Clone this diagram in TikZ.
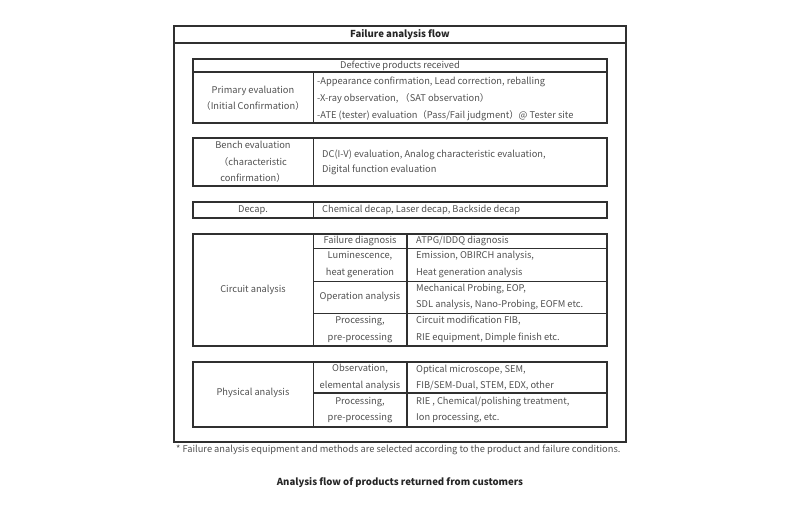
\documentclass[tikz,border=0pt]{standalone}
\usepackage{fontspec}
\setmainfont{Noto Sans CJK JP}
\definecolor{txtgray}{HTML}{505050}
\definecolor{rulegray}{HTML}{303030}
\tikzset{
  cell/.style={font=\fontsize{9.3}{16.5}\selectfont, text=txtgray, align=center, inner sep=0pt},
  item/.style={cell, anchor=west, align=left},
  frame/.style={draw=rulegray, line width=1.3pt},
  rule/.style={draw=rulegray, line width=0.6pt},
  heavyrule/.style={draw=rulegray, line width=1.4pt}
}
\begin{document}
\begin{tikzpicture}[x=1pt, y=-1pt]
    \useasboundingbox (0,0) rectangle (800,510);

    % outer frame and title
    \draw[draw=rulegray, line width=1.6pt] (174,26) rectangle (626,442);
    \draw[heavyrule] (174,43) -- (626,43);
    \node[cell, font=\fontsize{9.6}{10}\bfseries, text=black!85] (title) at (400,35) {Failure analysis flow};

    % primary evaluation
    \draw[frame] (193,59) rectangle (607,123);
    \draw[heavyrule] (193,72) -- (607,72);
    \draw[rule] (313,72) -- (313,123);
    \node[cell] (received) at (400,65.5) {Defective products received};
    \node[cell] (primary) at (253,98) {Primary evaluation\\（Initial Confirmation）};
    \node[item] (primary-a) at (317,82) {-Appearance confirmation, Lead correction, reballing};
    \node[item] (primary-b) at (317,99) {-X-ray observation, （SAT observation）};
    \node[item] (primary-c) at (317,116) {-ATE (tester) evaluation（Pass/Fail judgment）@ Tester site};

    % bench evaluation
    \draw[frame] (193,138) rectangle (607,186);
    \draw[rule] (313,138) -- (313,186);
    \node[cell] (bench) at (253,162) {Bench evaluation\\（characteristic\\confirmation）};
    \node[item] (bench-a) at (322,155) {DC(I-V) evaluation, Analog characteristic evaluation,};
    \node[item] (bench-b) at (322,170) {Digital function evaluation};

    % decap
    \draw[frame] (193,202) rectangle (607,218);
    \draw[rule] (313,202) -- (313,218);
    \node[cell] (decap) at (253,210) {Decap.};
    \node[item] (decap-a) at (322,210) {Chemical decap, Laser decap, Backside decap};

    % circuit analysis
    \draw[frame] (193,234) rectangle (607,346);
    \draw[rule] (313,234) -- (313,346);
    \draw[heavyrule] (407,234) -- (407,346);
    \foreach \y in {248,281,313}
        \draw[rule] (313,\y) -- (607,\y);
    \node[cell] (circuit) at (253,290) {Circuit analysis};
    \node[cell] (diag) at (360,241) {Failure diagnosis};
    \node[cell] (lumi) at (360,264.5) {Luminescence,\\heat generation};
    \node[cell] (oper) at (360,297) {Operation analysis};
    \node[cell] (proc) at (360,329.5) {Processing,\\pre-processing};
    \node[item] (diag-a) at (416,241) {ATPG/IDDQ diagnosis};
    \node[item] (lumi-a) at (416,264.5) {Emission, OBIRCH analysis,\\Heat generation analysis};
    \node[item] (oper-a) at (416,297) {Mechanical Probing, EOP,\\SDL analysis, Nano-Probing, EOFM etc.};
    \node[item] (proc-a) at (416,329.5) {Circuit modification FIB,\\RIE equipment, Dimple finish etc.};

    % physical analysis
    \draw[frame] (193,362) rectangle (607,427);
    \draw[rule] (313,362) -- (313,427);
    \draw[heavyrule] (407,362) -- (407,427);
    \draw[heavyrule] (313,393) -- (607,393);
    \node[cell] (physical) at (253,393) {Physical analysis};
    \node[cell] (obs) at (360,377.5) {Observation,\\elemental analysis};
    \node[cell] (prep) at (360,410) {Processing,\\pre-processing};
    \node[item] (obs-a) at (416,377.5) {Optical microscope, SEM,\\FIB/SEM-Dual, STEM, EDX, other};
    \node[item] (prep-a) at (416,410) {RIE , Chemical/polishing treatment,\\Ion processing, etc.};

    % notes
    \node[item] (note) at (176,450) {* Failure analysis equipment and methods are selected according to the product and failure conditions.};
    \node[cell, font=\fontsize{9.6}{10}\bfseries, text=black!85] (caption) at (400,483) {Analysis flow of products returned from customers};
\end{tikzpicture}
\end{document}
